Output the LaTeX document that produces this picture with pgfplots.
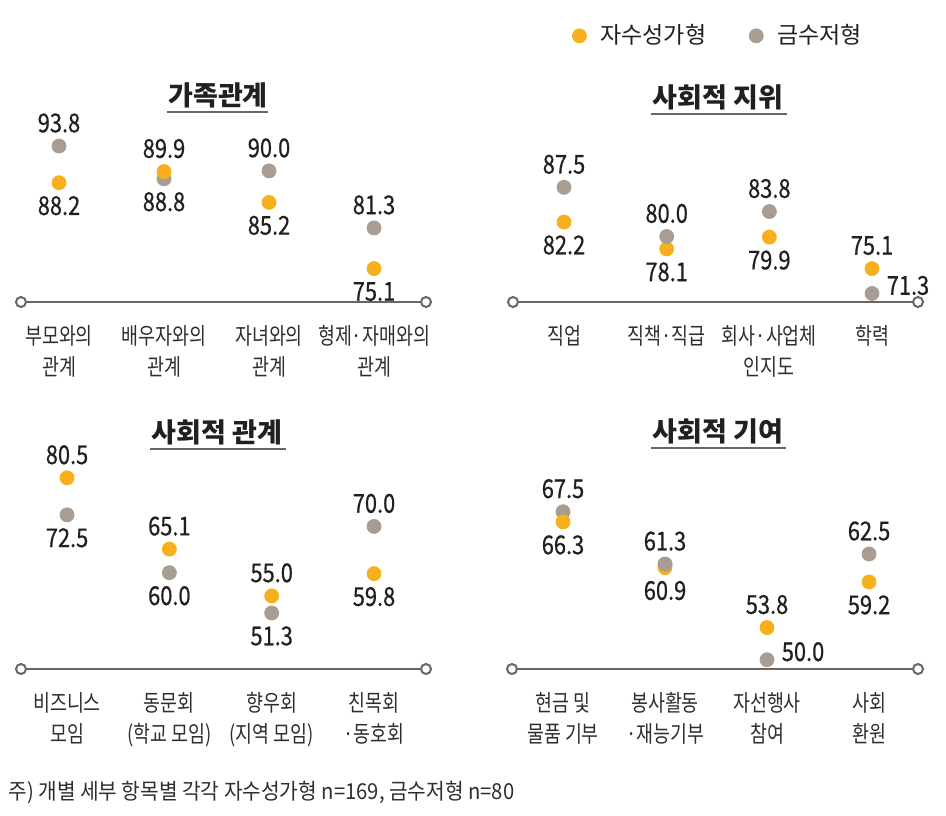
\documentclass[border=0pt]{standalone}
\usepackage{pgfplots}
\pgfplotsset{compat=1.18}
\usepackage{pgfplotstable}
\usepackage{fontspec}
\setmainfont{Noto Sans CJK KR}
\newfontfamily\numfont[FakeStretch=0.84, FakeBold=0.6]{Noto Sans CJK KR}
\newfontfamily\catfont[FakeStretch=0.8]{Noto Sans CJK KR}
\newfontfamily\notefont[FakeStretch=0.92]{Noto Sans CJK KR}

\definecolor{orng}{HTML}{F8AF1D}
\definecolor{gry}{HTML}{A99C90}
\definecolor{linecol}{HTML}{6E655E}
\definecolor{numcol}{HTML}{231F20}
\definecolor{catcol}{HTML}{2E2E2E}

% x = category, y = value, p = label position (1 above, -1 below, 0 right)
\pgfplotstableread{
x y p
0 93.8 1
1 88.8 -1
2 90.0 1
3 81.3 1
}\gA
\pgfplotstableread{
x y p
0 88.2 -1
1 89.9 1
2 85.2 -1
3 75.1 -1
}\oA
\pgfplotstableread{
x y p
0 87.5 1
1 80.0 1
2 83.8 1
3 71.3 0
}\gB
\pgfplotstableread{
x y p
0 82.2 -1
1 78.1 -1
2 79.9 -1
3 75.1 1
}\oB
\pgfplotstableread{
x y p
0 72.5 -1
1 60.0 -1
2 51.3 -1
3 70.0 1
}\gC
\pgfplotstableread{
x y p
0 80.5 1
1 65.1 1
2 55.0 1
3 59.8 -1
}\oC
\pgfplotstableread{
x y p
0 67.5 1
1 61.3 1
2 50.0 0
3 62.5 1
}\gD
\pgfplotstableread{
x y p
0 66.3 -1
1 60.9 -1
2 53.8 1
3 59.2 -1
}\oD

\pgfplotsset{
  panel/.style={
    scale only axis, width=202.5pt, clip=false,
    axis line style={draw=none}, ytick=\empty,
    xtick={0,1,2,3}, major tick length=0pt,
    xticklabel style={font=\catfont\fontsize{11.5}{15.5}\selectfont,
      align=center, text=catcol, anchor=north, yshift=-8pt},
  },
  dots/.style={
    only marks, mark=*, mark size=3.5pt, color=#1, forget plot,
    nodes near coords, point meta=explicit symbolic,
    every node near coord/.append style={anchor=center, inner sep=0pt,
      font=\numfont\fontsize{13}{13}\selectfont, text=numcol},
  },
  up/.style={restrict expr to domain={\thisrow{p}}{0.5:1.5},
    every node near coord/.append style={yshift=11.5pt}},
  down/.style={restrict expr to domain={\thisrow{p}}{-1.5:-0.5},
    every node near coord/.append style={yshift=-11.5pt}},
  right/.style={restrict expr to domain={\thisrow{p}}{-0.5:0.5},
    every node near coord/.append style={xshift=18pt, yshift=4pt}},
}

\begin{document}
\begin{tikzpicture}
\begin{scope}[x=0.5pt,y=-0.5pt]
  \useasboundingbox (0,0) rectangle (946,815);
  % baselines with open end circles
  \foreach \a/\b/\yy in {21/426/302, 513/918/302, 21/426/669, 512/918/669}{
    \draw[linecol, line width=1.1pt] (\a,\yy) -- (\b,\yy);
    \draw[linecol, line width=1pt, fill=white] (\a,\yy) circle (2.5pt);
    \draw[linecol, line width=1pt, fill=white] (\b,\yy) circle (2.5pt);
  }
  % panel titles
  \foreach \cx/\cy/\la/\lb/\t in {218/95/167/268/가족관계, 718/97/651/787/사회적 지위,
                                  217/432/150/286/사회적 관계, 718/431/651/786/사회적 기여}{
    \node[font=\bfseries\fontsize{13.5}{13.5}\selectfont, text=numcol] at (\cx,\cy) {\t};
    \draw[linecol, line width=0.7pt] (\la,\cy+17) -- (\lb,\cy+17);
  }
  \node[anchor=west, font=\notefont\fontsize{11}{11}\selectfont, text=catcol, inner sep=0pt]
    at (8,792) {주) 개별 세부 항목별 각각 자수성가형 n=169, 금수저형 n=80};
\end{scope}

% 가족관계
\begin{axis}[panel, at={(10.5pt,-151pt)}, anchor=south west, height=85.2pt,
  xmin=-0.362, xmax=3.495, ymin=70, ymax=96,
  xticklabels={{부모와의\\관계},{배우자와의\\관계},{자녀와의\\관계},{형제·자매와의\\관계}}]
  \addplot[dots=gry, up] table[x=x, y=y, meta=y] {\gA};
  \addplot[dots=gry, down] table[x=x, y=y, meta=y] {\gA};
  \addplot[dots=orng, up] table[x=x, y=y, meta=y] {\oA};
  \addplot[dots=orng, down] table[x=x, y=y, meta=y] {\oA};
\end{axis}

% 사회적 지위 (with legend)
\begin{axis}[panel, at={(256.5pt,-151pt)}, anchor=south west, height=85.2pt,
  xmin=-0.497, xmax=3.448, ymin=70, ymax=96,
  xticklabels={{직업},{직책·직급},{회사·사업체\\인지도},{학력}},
  legend columns=2,
  legend style={at={(0.509,1.562)}, anchor=center, draw=none, fill=none,
    font=\fontsize{11.5}{11.5}\selectfont, text=numcol,
    /tikz/every odd column/.append style={column sep=5pt},
    /tikz/every even column/.append style={column sep=19.5pt}}]
  \addplot[dots=orng, up] table[x=x, y=y, meta=y] {\oB};
  \addplot[dots=orng, down] table[x=x, y=y, meta=y] {\oB};
  \addplot[dots=gry, up] table[x=x, y=y, meta=y] {\gB};
  \addplot[dots=gry, right] table[x=x, y=y, meta=y] {\gB};
  \addlegendimage{only marks, mark=*, mark size=3.5pt, color=orng}
  \addlegendentry{자수성가형}
  \addlegendimage{only marks, mark=*, mark size=3.5pt, color=gry}
  \addlegendentry{금수저형}
\end{axis}

% 사회적 관계
\begin{axis}[panel, at={(10.5pt,-334.5pt)}, anchor=south west, height=103.7pt,
  xmin=-0.45, xmax=3.508, ymin=39.2, ymax=84,
  xticklabels={{비즈니스\\모임},{동문회\\(학교 모임)},{향우회\\(지역 모임)},{친목회\\·동호회}}]
  \addplot[dots=gry, up] table[x=x, y=y, meta=y] {\gC};
  \addplot[dots=gry, down] table[x=x, y=y, meta=y] {\gC};
  \addplot[dots=orng, up] table[x=x, y=y, meta=y] {\oC};
  \addplot[dots=orng, down] table[x=x, y=y, meta=y] {\oC};
\end{axis}

% 사회적 기여
\begin{axis}[panel, at={(256pt,-334.5pt)}, anchor=south west, height=89.2pt,
  xmin=-0.5, xmax=3.47, ymin=48.9, ymax=70,
  xticklabels={{현금 및\\물품 기부},{봉사활동\\·재능기부},{자선행사\\참여},{사회\\환원}}]
  \addplot[dots=gry, up] table[x=x, y=y, meta=y] {\gD};
  \addplot[dots=gry, right] table[x=x, y=y, meta=y] {\gD};
  \addplot[dots=orng, up] table[x=x, y=y, meta=y] {\oD};
  \addplot[dots=orng, down] table[x=x, y=y, meta=y] {\oD};
  \addplot[only marks, mark=*, mark size=3.5pt, color=gry] coordinates {(1,61.3)};
\end{axis}
\end{tikzpicture}
\end{document}
